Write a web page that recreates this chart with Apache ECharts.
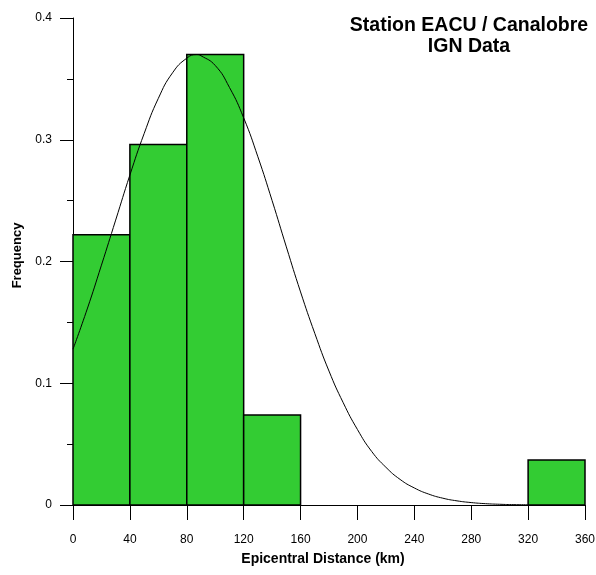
<!DOCTYPE html>
<html>
<head>
<meta charset="utf-8">
<script src="https://cdn.jsdelivr.net/npm/echarts@6/dist/echarts.min.js"></script>
<style>
html,body{margin:0;padding:0;background:#fff;}
#chart{width:596px;height:575px;}
</style>
</head>
<body>
<div id="chart"></div>
<script>
// Histogram bins (km) and frequencies
const binStarts = [0, 40, 80, 120, 320];
const binEnds   = [40, 80, 120, 160, 360];
const binFreq   = [0.222, 0.296, 0.370, 0.074, 0.037];

// Fitted curve
const curveX = [0, 10, 20, 30, 40, 50, 60, 70, 80, 87, 90, 100, 110, 120, 130, 140, 150, 160, 170, 180, 190, 200, 210, 220, 230, 240, 250, 260, 270, 280, 290, 300, 310, 320];
const curveY = [0.128, 0.161, 0.197, 0.234, 0.271, 0.305, 0.334, 0.355, 0.367, 0.370, 0.369, 0.361, 0.343, 0.318, 0.286, 0.250, 0.212, 0.175, 0.141, 0.110, 0.084, 0.062, 0.044, 0.031, 0.021, 0.014, 0.009, 0.0056, 0.0034, 0.002, 0.0011, 0.0006, 0.0003, 0.0002];

const xTicks = {min: 0, max: 360, interval: 40};
const yTicks = {min: 0, max: 0.4, interval: 0.1};

const titleText = 'Station EACU / Canalobre\nIGN Data';
const xName = 'Epicentral Distance (km)';
const yName = 'Frequency';

const barData = binStarts.map((s, i) => [s, binEnds[i], binFreq[i]]);
const curveData = curveX.map((x, i) => [x, curveY[i]]);

const FONT = '"Liberation Sans", Arial, sans-serif';
const chart = echarts.init(document.getElementById('chart'), null, {renderer: 'canvas'});
chart.setOption({
  animation: false,
  backgroundColor: '#fff',
  title: {
    text: titleText,
    left: 464,
    top: 10,
    textAlign: 'center',
    textStyle: {fontFamily: FONT, fontSize: 19.5, fontWeight: 'bold', color: '#000', lineHeight: 21}
  },
  grid: {left: 73, right: 11, top: 18, bottom: 70, outerBoundsMode: 'none', containLabel: false},
  xAxis: {
    type: 'value',
    min: xTicks.min, max: xTicks.max, interval: xTicks.interval,
    name: xName,
    nameLocation: 'middle',
    nameGap: 47,
    nameTextStyle: {fontFamily: FONT, fontSize: 14, fontWeight: 'bold', color: '#000', padding: [0, 12, 0, 0]},
    axisLine: {show: true, onZero: false, lineStyle: {color: '#000', width: 1}},
    axisTick: {show: true, length: 15, lineStyle: {color: '#000', width: 1}},
    axisLabel: {margin: 29, fontFamily: FONT, fontSize: 12, color: '#000'},
    splitLine: {show: false}
  },
  yAxis: {
    type: 'value',
    min: yTicks.min, max: yTicks.max, interval: yTicks.interval,
    name: yName,
    nameLocation: 'middle',
    nameRotate: 90,
    nameGap: 49,
    nameTextStyle: {fontFamily: FONT, fontSize: 13, fontWeight: 'bold', color: '#000', padding: [0, 0, 0, 12]},
    axisLine: {show: true, onZero: false, lineStyle: {color: '#000', width: 1}},
    axisTick: {show: true, length: 13, lineStyle: {color: '#000', width: 1}},
    minorTick: {show: true, splitNumber: 2, length: 6, lineStyle: {color: '#000', width: 1}},
    axisLabel: {margin: 21, fontFamily: FONT, fontSize: 12, color: '#000'},
    splitLine: {show: false},
    minorSplitLine: {show: false}
  },
  series: [
    {
      type: 'custom',
      data: barData,
      encode: {x: [0, 1], y: 2},
      renderItem: function (params, api) {
        const p0 = api.coord([api.value(0), api.value(2)]);
        const p1 = api.coord([api.value(1), 0]);
        return {
          type: 'rect',
          shape: {x: p0[0], y: p0[1], width: p1[0] - p0[0], height: p1[1] - p0[1]},
          style: {fill: '#33CC33', stroke: '#000', lineWidth: 1.5}
        };
      },
      z: 2
    },
    {
      type: 'line',
      data: curveData,
      smooth: true,
      showSymbol: false,
      symbol: 'none',
      lineStyle: {color: '#000', width: 1},
      z: 3
    }
  ]
});
</script>
</body>
</html>
